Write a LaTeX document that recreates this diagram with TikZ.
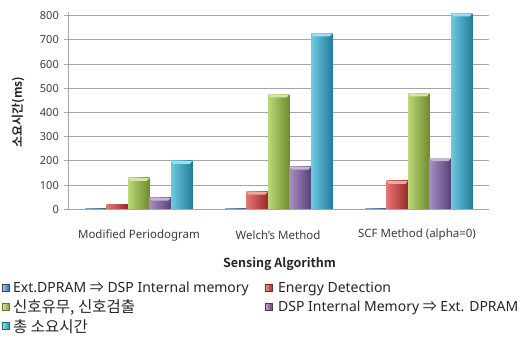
\documentclass[tikz,border=0pt]{standalone}
\usepackage{fontspec}
\setmainfont{Noto Sans}
\newfontfamily\kr{Noto Sans CJK KR}[BoldFont={Noto Sans CJK KR Bold}]
\definecolor{cb}{RGB}{79,129,189}
\definecolor{cr}{RGB}{215,60,55}
\definecolor{cg}{RGB}{158,200,64}
\definecolor{cp}{RGB}{128,92,168}
\definecolor{cc}{RGB}{48,178,218}
\definecolor{gridc}{RGB}{165,165,165}
\definecolor{txt}{RGB}{60,60,60}
\newcommand\drawbar[3]{%
  \pgfmathsetmacro\bt{209.3-#2*0.242}%
  \shade[left color=#3!70!white, middle color=#3, right color=#3!70!black]
    (#1,209.3) rectangle ({#1+21.3},\bt);
  \pgfmathparse{#2>20?1:0}%
  \ifnum\pgfmathresult=1
    \fill[#3!45!white] (#1,\bt) -- ({#1+21.3},\bt) -- ({#1+18.8},{\bt+3}) -- ({#1+2.5},{\bt+3}) -- cycle;
  \fi
}
\newcommand\legsq[3]{%
  \shade[left color=#3!50!white, right color=#3!80!black, draw=#3!60!black, line width=0.3pt]
    (#1,{#2-3.5}) rectangle ({#1+7},{#2+3.5});
}
\newcommand\darr{{\kr ⇒}}
\tikzset{
  ticklab/.style={anchor=east, font=\fontsize{11}{12}\selectfont, text=txt, inner sep=0pt},
  catlab/.style={font=\fontsize{11.5}{12}\selectfont, text=txt, inner sep=0pt},
  legtext/.style={anchor=west, font=\fontsize{14}{15}\selectfont, text=black!85, inner sep=0pt},
  legkr/.style={anchor=west, font=\kr\fontsize{15.5}{16}\selectfont, text=black!85, inner sep=0pt},
  gridline/.style={draw=gridc, line width=0.9pt},
}
\begin{document}
\begin{tikzpicture}[x=1pt,y=-1pt]
\useasboundingbox[fill=white] (0,0) rectangle (526,340);
% grid
\foreach \k in {1,...,8} {
  \draw[gridline] (68,{209.3-24.2*\k}) -- (489,{209.3-24.2*\k});
}
\foreach \k in {0,...,8} {
  \draw[gridline] (64,{209.3-24.2*\k}) -- (68,{209.3-24.2*\k});
  \pgfmathtruncatemacro\lab{100*\k}
  \node[ticklab] (t\k) at (59,{209.3-24.2*\k}) {\lab};
}
% bars
\drawbar{85}{4}{cb}
\drawbar{106.5}{20}{cr}
\drawbar{128}{130}{cg}
\drawbar{149.5}{48}{cp}
\drawbar{171}{200}{cc}
\drawbar{225}{4}{cb}
\drawbar{246.5}{73}{cr}
\drawbar{268}{475}{cg}
\drawbar{289.5}{176}{cp}
\drawbar{311}{727}{cc}
\drawbar{365}{4}{cb}
\drawbar{386.5}{117}{cr}
\drawbar{408}{479}{cg}
\drawbar{429.5}{211}{cp}
\drawbar{451}{810}{cc}
% axes
\draw[gridline] (68,12) -- (68,209.3) -- (489,209.3);
% category labels
\node[catlab] (c1) at (139,235) {Modified Periodogram};
\node[catlab] (c2) at (278,235) {Welch's Method};
\node[catlab] (c3) at (417,235) {SCF Method (alpha=0)};
\node[font=\kr\fontsize{12.5}{13}\selectfont\bfseries, text=black!85, inner sep=0pt] (xt) at (279.5,264) {Sensing Algorithm};
\node[rotate=90, font=\kr\fontsize{12}{12}\selectfont\bfseries, text=black!85, inner sep=0pt] (yt) at (18,112) {소요시간(ms)};
% legend
\legsq{2.5}{288}{cb}
\node[legtext] (l1) at (13,289) {Ext.DPRAM \darr{} DSP Internal memory};
\legsq{265}{288}{cr}
\node[legtext] (l2) at (278,289) {Energy Detection};
\legsq{2.5}{307}{cg}
\node[legkr] (l3) at (13,308) {신호유무, 신호검출};
\legsq{265}{307}{cp}
\node[legtext] (l4) at (278,308) {DSP Internal Memory \darr{} Ext. DPRAM};
\legsq{2.5}{326}{cc}
\node[legkr] (l5) at (13,327) {총 소요시간};
\end{tikzpicture}
\end{document}
